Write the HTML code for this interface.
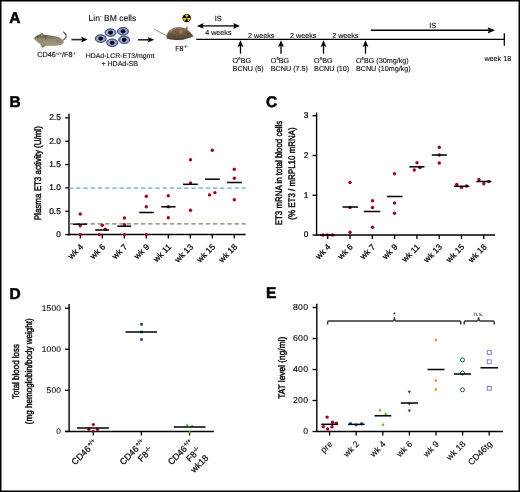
<!DOCTYPE html>
<html><head><meta charset="utf-8"><style>
html,body{margin:0;padding:0;background:#fff;}
svg{display:block;font-family:"Liberation Sans", sans-serif;will-change:transform;text-rendering:geometricPrecision;}
text{stroke:#000;stroke-width:0.22px;}
.yl{stroke-width:0.4px;}
.a{stroke-width:0.12px;fill:#111;}
.ns{stroke-width:0px;fill:#222;}
</style></head><body>
<svg width="520" height="492" viewBox="0 0 520 492" font-family='"Liberation Sans", sans-serif' fill="#000">
<rect width="520" height="492" fill="#fff"/>
<rect x="0.75" y="0.75" width="518.5" height="490.5" fill="none" stroke="#000" stroke-width="1.5"/>
<text x="9.3" y="22.7" font-size="15.5" font-weight="bold" style="stroke-width:0.5px">A</text>
<text x="9.4" y="106.7" font-size="15.5" font-weight="bold" style="stroke-width:0.5px">B</text>
<text x="266.0" y="106.7" font-size="15.5" font-weight="bold" style="stroke-width:0.5px">C</text>
<text x="9.4" y="298.8" font-size="15.5" font-weight="bold" style="stroke-width:0.5px">D</text>
<text x="265.9" y="298.4" font-size="15.5" font-weight="bold" style="stroke-width:0.5px">E</text>
<defs>
<linearGradient id="g1" x1="0" y1="0" x2="0" y2="1"><stop offset="0" stop-color="#5e5747"/><stop offset="0.35" stop-color="#8f8771"/><stop offset="0.7" stop-color="#a0977e"/><stop offset="1" stop-color="#7a7260"/></linearGradient>
<linearGradient id="g2" x1="0" y1="0" x2="0" y2="1"><stop offset="0" stop-color="#86705a"/><stop offset="0.5" stop-color="#705a44"/><stop offset="1" stop-color="#4f3f30"/></linearGradient>
</defs>
<g id="m1">
<path d="M63.3,40 C65.5,38.5 66.6,36.6 66,35 C65.5,33.8 64.6,33 63.6,32" fill="none" stroke="#4f483c" stroke-width="1.1" stroke-linecap="round"/>
<path d="M34,38.2 C35,36.5 37,35.2 39.5,34.6 C41,34.1 42.5,34.2 44,34.8 C48,35.3 52,35.6 56,36.6 C60,37.5 63,39.3 63.8,41.7 C64,43.5 62.5,44.4 60,44.9 C56,45.8 50,46 46,45.7 C44.5,46 43.6,47.3 42.6,47.8 C41.6,48 41.4,46.8 41.5,45.8 C40,44.4 38,42.5 36.5,41.1 C35.2,40.3 34.3,39.3 34,38.2 Z" fill="url(#g1)"/>

<path d="M55,40 C58,40.5 60.5,41.5 62,43 C59,43 56.5,42 55,40 Z" fill="#6f6858" opacity="0.5"/>
<ellipse cx="41.6" cy="34.6" rx="1.7" ry="1.5" fill="#7b7262"/>
<ellipse cx="41.6" cy="34.8" rx="0.9" ry="0.8" fill="#9c8c80"/>
<circle cx="37.4" cy="37.2" r="0.6" fill="#2a2520"/>
<path d="M45.5,36.2 C45.8,37.3 45.9,38.5 45.6,39.6" stroke="#4e473c" stroke-width="0.7" fill="none"/>
<circle cx="34.2" cy="38.4" r="0.6" fill="#b08888"/>
<path d="M41.4,45.8 L41,46.6 M43,47.6 L43.4,48.1 M61.5,44.6 L62.5,45.2" stroke="#c9aca2" stroke-width="0.8"/>
</g>
<line x1="71.4" y1="39.6" x2="82.3" y2="39.6" stroke="#2a2a2a" stroke-width="1.6" />
<path d="M87.6,39.6 L81.1,36.800000000000004 L82.3,39.6 L81.1,42.4 Z" fill="#000"/>
<line x1="138" y1="39.8" x2="148.89999999999998" y2="39.8" stroke="#2a2a2a" stroke-width="1.6" />
<path d="M154.2,39.8 L147.7,37.0 L148.89999999999998,39.8 L147.7,42.599999999999994 Z" fill="#000"/>
<text class="a" x="37.2" y="57.3" font-size="7.3" text-anchor="start">CD46<tspan font-size="4.2" dy="-2.8">+/+</tspan><tspan dy="2.8">/F8</tspan><tspan font-size="4.2" dy="-2.8">-/-</tspan></text>
<text class="a" x="88.6" y="20.7" font-size="8.5" text-anchor="start">Lin<tspan font-size="5.3" dy="-3.2">-</tspan><tspan dy="3.2"> BM cells</tspan></text>
<defs><radialGradient id="cg" cx="0.5" cy="0.5" r="0.5"><stop offset="0.3" stop-color="#d2d6ee"/><stop offset="0.75" stop-color="#8e9acb"/><stop offset="1" stop-color="#56639f"/></radialGradient></defs>
<ellipse cx="110.5" cy="32.6" rx="5.5" ry="3.8" fill="url(#cg)" stroke="#2e3d7c" stroke-width="0.9"/>
<ellipse cx="110.5" cy="32.6" rx="2.5" ry="2.15" fill="#000"/>
<ellipse cx="123" cy="31.3" rx="5.5" ry="3.8" fill="url(#cg)" stroke="#2e3d7c" stroke-width="0.9"/>
<ellipse cx="123" cy="31.3" rx="2.5" ry="2.15" fill="#000"/>
<ellipse cx="100.7" cy="38.6" rx="5.5" ry="3.8" fill="url(#cg)" stroke="#2e3d7c" stroke-width="0.9"/>
<ellipse cx="100.7" cy="38.6" rx="2.5" ry="2.15" fill="#000"/>
<ellipse cx="124.2" cy="39.8" rx="5.5" ry="3.8" fill="url(#cg)" stroke="#2e3d7c" stroke-width="0.9"/>
<ellipse cx="124.2" cy="39.8" rx="2.5" ry="2.15" fill="#000"/>
<ellipse cx="112.2" cy="42.8" rx="5.5" ry="3.8" fill="url(#cg)" stroke="#2e3d7c" stroke-width="0.9"/>
<ellipse cx="112.2" cy="42.8" rx="2.5" ry="2.15" fill="#000"/>
<text class="a" x="85.8" y="57.7" font-size="6.9" text-anchor="start">HDAd-LCR-ET3/mgmt</text>
<text class="a" x="101.4" y="65.8" font-size="7.05" text-anchor="start">+ HDAd-SB</text>
<g transform="translate(186.7,18.1)">
<circle r="4.2" fill="#050505"/>
<path d="M0,0 L1.8,-3.1 A3.6,3.6 0 0 0 -1.8,-3.1 Z" fill="#f2c200"/>
<path d="M0,0 L1.8,-3.1 A3.6,3.6 0 0 0 -1.8,-3.1 Z" fill="#f2c200" transform="rotate(120)"/>
<path d="M0,0 L1.8,-3.1 A3.6,3.6 0 0 0 -1.8,-3.1 Z" fill="#f2c200" transform="rotate(240)"/>
<circle r="0.6" fill="#6a5500"/>
</g>
<g id="m2">
<path d="M154.4,29.2 C158,31.2 162,33.4 167,35.8" fill="none" stroke="#8c7c6c" stroke-width="0.9" stroke-linecap="round"/>
<path d="M166.5,37.5 C166.5,33.5 168.5,30.5 172,28.8 C175,27.4 179,27 182.5,27.6 C185,28 187.5,29.3 189.3,31.3 C191,33 192.5,34.8 193.2,36.3 C192.5,37.2 191,37.6 189.5,37.8 C187.5,38.6 185.5,39.3 183,39.8 C178,40.3 172,40 168,39 C167,38.7 166.5,38.2 166.5,37.5 Z" fill="url(#g2)"/>
<path d="M169,32 C171,29.4 174,28.2 177,27.7 C174.5,29.2 172,30.8 170,33 Z" fill="#a08670" opacity="0.8"/>
<path d="M183,31.5 C185.5,31 188,32 189.8,34.5 C188,35.5 185.5,35.3 183.5,34 Z" fill="#6a5240" opacity="0.7"/>
<ellipse cx="180.6" cy="31.2" rx="2.3" ry="2.5" fill="#8a6c58"/>
<ellipse cx="180.8" cy="31.4" rx="1.4" ry="1.6" fill="#9a7a64"/>
<path d="M171,33 C172.5,35 174,36.5 176.5,37.5 M174.5,30.5 C176,32.5 177,34 178.5,35.5 M183.5,35 C185,36.5 186.5,37.5 188.5,37.8" stroke="#574533" stroke-width="0.6" fill="none" opacity="0.7"/>
<path d="M185.6,29 C185.8,27.6 186.4,26.4 187,26.2 C187.6,26.6 187.8,28 187.6,29.4 Z" fill="#8a6e5a"/>
<circle cx="188.1" cy="33.8" r="0.65" fill="#1a120c"/>
<circle cx="193" cy="36.3" r="0.5" fill="#9a7868"/>
<path d="M168,38.6 L167.6,39.6 M181,39.8 L181.4,40.6 M185.5,39.3 L186.5,39.9" stroke="#d8b8a8" stroke-width="0.8"/>
</g>
<text class="a" x="175.2" y="50.9" font-size="7.2" text-anchor="start">F8<tspan font-size="4.5" dy="-2.8">-/-</tspan></text>
<line x1="202" y1="25.9" x2="234.5" y2="25.9" stroke="#444" stroke-width="1.8" />
<path d="M196.9,25.9 L203.7,23.0 L202.6,25.9 L203.7,28.8 Z" fill="#000"/>
<path d="M240,25.9 L233.2,23.0 L234.3,25.9 L233.2,28.8 Z" fill="#000"/>
<text class="a" x="218.2" y="20.8" font-size="7.4" text-anchor="middle">IS</text>
<text class="a" x="205.2" y="35" font-size="7.2" text-anchor="start">4 weeks</text>
<line x1="196.2" y1="39.3" x2="504.3" y2="39.3" stroke="#000" stroke-width="1.3" />
<line x1="504.3" y1="33.2" x2="504.3" y2="45.8" stroke="#000" stroke-width="1.3" />
<line x1="240.5" y1="53.7" x2="240.5" y2="45" stroke="#000" stroke-width="1.3" />
<path d="M240.5,40.3 L237.6,46.9 L240.5,45.7 L243.4,46.9 Z" fill="#000"/>
<line x1="281" y1="53.7" x2="281" y2="45" stroke="#000" stroke-width="1.3" />
<path d="M281,40.3 L278.1,46.9 L281,45.7 L283.9,46.9 Z" fill="#000"/>
<line x1="323.5" y1="53.7" x2="323.5" y2="45" stroke="#000" stroke-width="1.3" />
<path d="M323.5,40.3 L320.6,46.9 L323.5,45.7 L326.4,46.9 Z" fill="#000"/>
<line x1="365.5" y1="53.7" x2="365.5" y2="45" stroke="#000" stroke-width="1.3" />
<path d="M365.5,40.3 L362.6,46.9 L365.5,45.7 L368.4,46.9 Z" fill="#000"/>
<text class="a" x="248.0" y="37.5" font-size="7.2" text-anchor="start">2 weeks</text>
<text class="a" x="290.0" y="37.5" font-size="7.2" text-anchor="start">2 weeks</text>
<text class="a" x="332.2" y="37.5" font-size="7.2" text-anchor="start">2 weeks</text>
<text class="a" x="232.6" y="62.5" font-size="7.2" text-anchor="start">O<tspan font-size="4.2" dx="0.1" dy="-2.6">6</tspan><tspan dy="2.6">BG</tspan></text>
<text class="a" x="232.6" y="71.1" font-size="7.2" text-anchor="start">BCNU (5)</text>
<text class="a" x="270.8" y="62.5" font-size="7.2" text-anchor="start">O<tspan font-size="4.2" dx="0.1" dy="-2.6">6</tspan><tspan dy="2.6">BG</tspan></text>
<text class="a" x="270.8" y="71.1" font-size="7.2" text-anchor="start">BCNU (7.5)</text>
<text class="a" x="314.1" y="62.5" font-size="7.2" text-anchor="start">O<tspan font-size="4.2" dx="0.1" dy="-2.6">6</tspan><tspan dy="2.6">BG</tspan></text>
<text class="a" x="314.1" y="71.1" font-size="7.2" text-anchor="start">BCNU (10)</text>
<text class="a" x="355.9" y="62.5" font-size="7.2" text-anchor="start">O<tspan font-size="4.2" dx="0.1" dy="-2.6">6</tspan><tspan dy="2.6">BG (30mg/kg)</tspan></text>
<text class="a" x="355.9" y="71.1" font-size="7.2" text-anchor="start">BCNU (10mg/kg)</text>
<line x1="370.9" y1="30.3" x2="489.5" y2="30.3" stroke="#000" stroke-width="1.4" />
<path d="M495.0,30.3 L487.7,27.2 L488.9,30.3 L487.7,33.4 Z" fill="#000"/>
<text class="a" x="432.8" y="28.3" font-size="7.4" text-anchor="middle">IS</text>
<text class="a" x="484.4" y="60.7" font-size="7.2" text-anchor="start">week 18</text>
<line x1="69" y1="113.7" x2="69" y2="235.4" stroke="#000" stroke-width="1.4" />
<line x1="68.3" y1="234.6" x2="245.6" y2="234.6" stroke="#000" stroke-width="1.5" />
<line x1="65.2" y1="234.6" x2="69" y2="234.6" stroke="#000" stroke-width="1.3" />
<text x="60.8" y="237.0" font-size="8.3" text-anchor="end" >0</text>
<line x1="65.2" y1="211.25" x2="69" y2="211.25" stroke="#000" stroke-width="1.3" />
<text x="60.8" y="213.65" font-size="8.3" text-anchor="end" >0.5</text>
<line x1="65.2" y1="187.89999999999998" x2="69" y2="187.89999999999998" stroke="#000" stroke-width="1.3" />
<text x="60.8" y="190.29999999999998" font-size="8.3" text-anchor="end" >1.0</text>
<line x1="65.2" y1="164.54999999999998" x2="69" y2="164.54999999999998" stroke="#000" stroke-width="1.3" />
<text x="60.8" y="166.95" font-size="8.3" text-anchor="end" >1.5</text>
<line x1="65.2" y1="141.2" x2="69" y2="141.2" stroke="#000" stroke-width="1.3" />
<text x="60.8" y="143.6" font-size="8.3" text-anchor="end" >2.0</text>
<line x1="65.2" y1="117.85" x2="69" y2="117.85" stroke="#000" stroke-width="1.3" />
<text x="60.8" y="120.25" font-size="8.3" text-anchor="end" >2.5</text>
<line x1="80.3" y1="234.6" x2="80.3" y2="238.6" stroke="#000" stroke-width="1.3" />
<line x1="102.3" y1="234.6" x2="102.3" y2="238.6" stroke="#000" stroke-width="1.3" />
<line x1="124.3" y1="234.6" x2="124.3" y2="238.6" stroke="#000" stroke-width="1.3" />
<line x1="146.3" y1="234.6" x2="146.3" y2="238.6" stroke="#000" stroke-width="1.3" />
<line x1="168.3" y1="234.6" x2="168.3" y2="238.6" stroke="#000" stroke-width="1.3" />
<line x1="190.3" y1="234.6" x2="190.3" y2="238.6" stroke="#000" stroke-width="1.3" />
<line x1="212.3" y1="234.6" x2="212.3" y2="238.6" stroke="#000" stroke-width="1.3" />
<line x1="234.3" y1="234.6" x2="234.3" y2="238.6" stroke="#000" stroke-width="1.3" />
<line x1="69" y1="188.2" x2="245.6" y2="188.2" stroke="#5aa5e2" stroke-width="1.3" stroke-dasharray="4.3,2.9"/>
<line x1="69" y1="223.9" x2="245.6" y2="223.9" stroke="#8d7556" stroke-width="1.3" stroke-dasharray="4.3,2.9"/>
<circle cx="80.2" cy="214" r="1.7" fill="#a3001e"/>
<circle cx="80.2" cy="225.8" r="1.7" fill="#a3001e"/>
<circle cx="80.2" cy="234.6" r="1.7" fill="#a3001e"/>
<circle cx="102.3" cy="225.2" r="1.7" fill="#a3001e"/>
<circle cx="105.2" cy="229.2" r="1.7" fill="#a3001e"/>
<circle cx="99.4" cy="234.6" r="1.7" fill="#a3001e"/>
<circle cx="124.4" cy="218" r="1.7" fill="#a3001e"/>
<circle cx="124.4" cy="224.8" r="1.7" fill="#a3001e"/>
<circle cx="124.4" cy="234.6" r="1.7" fill="#a3001e"/>
<circle cx="146.3" cy="196.3" r="1.7" fill="#a3001e"/>
<circle cx="146.3" cy="206.8" r="1.7" fill="#a3001e"/>
<circle cx="146.3" cy="234.6" r="1.7" fill="#a3001e"/>
<circle cx="168.3" cy="195.8" r="1.7" fill="#a3001e"/>
<circle cx="168.3" cy="206.8" r="1.7" fill="#a3001e"/>
<circle cx="168.3" cy="217.8" r="1.7" fill="#a3001e"/>
<circle cx="190.5" cy="159.8" r="1.7" fill="#a3001e"/>
<circle cx="190.5" cy="183" r="1.7" fill="#a3001e"/>
<circle cx="190.5" cy="210.3" r="1.7" fill="#a3001e"/>
<circle cx="212.3" cy="150.3" r="1.7" fill="#a3001e"/>
<circle cx="209.5" cy="194.9" r="1.7" fill="#a3001e"/>
<circle cx="214.9" cy="192.6" r="1.7" fill="#a3001e"/>
<circle cx="234.3" cy="169.3" r="1.7" fill="#a3001e"/>
<circle cx="234.3" cy="178.3" r="1.7" fill="#a3001e"/>
<circle cx="234.3" cy="199.7" r="1.7" fill="#a3001e"/>
<line x1="73" y1="224.2" x2="87" y2="224.2" stroke="#000" stroke-width="1.5" />
<line x1="95.2" y1="230" x2="109" y2="230" stroke="#000" stroke-width="1.5" />
<line x1="117.3" y1="226.2" x2="131.2" y2="226.2" stroke="#000" stroke-width="1.5" />
<line x1="139.3" y1="212.5" x2="153.8" y2="212.5" stroke="#000" stroke-width="1.5" />
<line x1="161.3" y1="206.8" x2="175.5" y2="206.8" stroke="#000" stroke-width="1.5" />
<line x1="183" y1="184.3" x2="197.8" y2="184.3" stroke="#000" stroke-width="1.5" />
<line x1="205" y1="179.2" x2="219.8" y2="179.2" stroke="#000" stroke-width="1.5" />
<line x1="227.1" y1="182.5" x2="241.9" y2="182.5" stroke="#000" stroke-width="1.5" />
<text transform="translate(83.7,247.4) rotate(-45)" font-size="8.4" text-anchor="end">wk 4</text>
<text transform="translate(105.7,247.4) rotate(-45)" font-size="8.4" text-anchor="end">wk 6</text>
<text transform="translate(127.7,247.4) rotate(-45)" font-size="8.4" text-anchor="end">wk 7</text>
<text transform="translate(149.70000000000002,247.4) rotate(-45)" font-size="8.4" text-anchor="end">wk 9</text>
<text transform="translate(171.70000000000002,247.4) rotate(-45)" font-size="8.4" text-anchor="end">wk 11</text>
<text transform="translate(193.70000000000002,247.4) rotate(-45)" font-size="8.4" text-anchor="end">wk 13</text>
<text transform="translate(215.70000000000002,247.4) rotate(-45)" font-size="8.4" text-anchor="end">wk 15</text>
<text transform="translate(237.70000000000002,247.4) rotate(-45)" font-size="8.4" text-anchor="end">wk 18</text>
<text transform="translate(41.2,173.2) rotate(-90)" class="yl" font-size="9.5" text-anchor="middle" textLength="94" lengthAdjust="spacingAndGlyphs">Plasma ET3 activity (U/ml)</text>
<line x1="316.6" y1="112.5" x2="316.6" y2="235.8" stroke="#000" stroke-width="1.4" />
<line x1="316" y1="235" x2="495" y2="235" stroke="#000" stroke-width="1.5" />
<line x1="312.5" y1="235.0" x2="316.6" y2="235.0" stroke="#000" stroke-width="1.3" />
<text x="308.3" y="237.4" font-size="8.3" text-anchor="end" >0</text>
<line x1="312.5" y1="195.25" x2="316.6" y2="195.25" stroke="#000" stroke-width="1.3" />
<text x="308.3" y="197.65" font-size="8.3" text-anchor="end" >1</text>
<line x1="312.5" y1="155.5" x2="316.6" y2="155.5" stroke="#000" stroke-width="1.3" />
<text x="308.3" y="157.9" font-size="8.3" text-anchor="end" >2</text>
<line x1="312.5" y1="115.75" x2="316.6" y2="115.75" stroke="#000" stroke-width="1.3" />
<text x="308.3" y="118.15" font-size="8.3" text-anchor="end" >3</text>
<line x1="327.7" y1="235" x2="327.7" y2="239" stroke="#000" stroke-width="1.3" />
<line x1="350.0" y1="235" x2="350.0" y2="239" stroke="#000" stroke-width="1.3" />
<line x1="372.3" y1="235" x2="372.3" y2="239" stroke="#000" stroke-width="1.3" />
<line x1="394.6" y1="235" x2="394.6" y2="239" stroke="#000" stroke-width="1.3" />
<line x1="416.9" y1="235" x2="416.9" y2="239" stroke="#000" stroke-width="1.3" />
<line x1="439.2" y1="235" x2="439.2" y2="239" stroke="#000" stroke-width="1.3" />
<line x1="461.5" y1="235" x2="461.5" y2="239" stroke="#000" stroke-width="1.3" />
<line x1="483.79999999999995" y1="235" x2="483.79999999999995" y2="239" stroke="#000" stroke-width="1.3" />
<circle cx="323" cy="235" r="1.7" fill="#a3001e"/>
<circle cx="327.5" cy="235" r="1.7" fill="#a3001e"/>
<circle cx="332.5" cy="235" r="1.7" fill="#a3001e"/>
<circle cx="350" cy="182.5" r="1.7" fill="#a3001e"/>
<circle cx="350" cy="207.5" r="1.7" fill="#a3001e"/>
<circle cx="350" cy="232.3" r="1.7" fill="#a3001e"/>
<circle cx="372.5" cy="200.8" r="1.7" fill="#a3001e"/>
<circle cx="372.5" cy="207.5" r="1.7" fill="#a3001e"/>
<circle cx="372.5" cy="227.3" r="1.7" fill="#a3001e"/>
<circle cx="394.5" cy="173.8" r="1.7" fill="#a3001e"/>
<circle cx="394.5" cy="203" r="1.7" fill="#a3001e"/>
<circle cx="394.5" cy="213.3" r="1.7" fill="#a3001e"/>
<circle cx="417" cy="162.8" r="1.7" fill="#a3001e"/>
<circle cx="414.3" cy="170" r="1.7" fill="#a3001e"/>
<circle cx="420" cy="167.5" r="1.7" fill="#a3001e"/>
<circle cx="439.3" cy="147.3" r="1.7" fill="#a3001e"/>
<circle cx="439.3" cy="155" r="1.7" fill="#a3001e"/>
<circle cx="439.3" cy="163" r="1.7" fill="#a3001e"/>
<circle cx="456.8" cy="184.5" r="1.7" fill="#a3001e"/>
<circle cx="461.5" cy="187.5" r="1.7" fill="#a3001e"/>
<circle cx="466.5" cy="186" r="1.7" fill="#a3001e"/>
<circle cx="479" cy="179.5" r="1.7" fill="#a3001e"/>
<circle cx="483.8" cy="183.8" r="1.7" fill="#a3001e"/>
<circle cx="488.8" cy="181.5" r="1.7" fill="#a3001e"/>
<line x1="320" y1="235" x2="335" y2="235" stroke="#000" stroke-width="1.5" />
<line x1="342.5" y1="207" x2="358" y2="207" stroke="#000" stroke-width="1.5" />
<line x1="363.8" y1="211.5" x2="380.3" y2="211.5" stroke="#000" stroke-width="1.5" />
<line x1="387" y1="196.5" x2="402.5" y2="196.5" stroke="#000" stroke-width="1.5" />
<line x1="409.3" y1="166.8" x2="424.5" y2="166.8" stroke="#000" stroke-width="1.5" />
<line x1="431.8" y1="155" x2="446.8" y2="155" stroke="#000" stroke-width="1.5" />
<line x1="454" y1="186.3" x2="469.3" y2="186.3" stroke="#000" stroke-width="1.5" />
<line x1="476.3" y1="181.5" x2="491.3" y2="181.5" stroke="#000" stroke-width="1.5" />
<text transform="translate(331.09999999999997,247.5) rotate(-45)" font-size="8.4" text-anchor="end">wk 4</text>
<text transform="translate(353.4,247.5) rotate(-45)" font-size="8.4" text-anchor="end">wk 6</text>
<text transform="translate(375.7,247.5) rotate(-45)" font-size="8.4" text-anchor="end">wk 7</text>
<text transform="translate(398.0,247.5) rotate(-45)" font-size="8.4" text-anchor="end">wk 9</text>
<text transform="translate(420.29999999999995,247.5) rotate(-45)" font-size="8.4" text-anchor="end">wk 11</text>
<text transform="translate(442.59999999999997,247.5) rotate(-45)" font-size="8.4" text-anchor="end">wk 13</text>
<text transform="translate(464.9,247.5) rotate(-45)" font-size="8.4" text-anchor="end">wk 15</text>
<text transform="translate(487.19999999999993,247.5) rotate(-45)" font-size="8.4" text-anchor="end">wk 18</text>
<text transform="translate(281.6,173) rotate(-90)" class="yl" font-size="9.5" text-anchor="middle" textLength="104.5" lengthAdjust="spacingAndGlyphs">ET3 mRNA in total blood cells</text>
<text transform="translate(295,173.5) rotate(-90)" class="yl" font-size="9.5" text-anchor="middle" textLength="92.5" lengthAdjust="spacingAndGlyphs">(% ET3 / mRPL10 mRNA)</text>
<line x1="69.1" y1="304" x2="69.1" y2="431.6" stroke="#000" stroke-width="1.4" />
<line x1="65" y1="431.5" x2="213.8" y2="431.5" stroke="#000" stroke-width="1.5" />
<line x1="65" y1="431.4" x2="69.1" y2="431.4" stroke="#000" stroke-width="1.3" />
<text x="61.2" y="433.79999999999995" font-size="8.3" text-anchor="end" letter-spacing="0.25" style="stroke-width:0.08px">0</text>
<line x1="65" y1="390.29999999999995" x2="69.1" y2="390.29999999999995" stroke="#000" stroke-width="1.3" />
<text x="61.2" y="392.69999999999993" font-size="8.3" text-anchor="end" letter-spacing="0.25" style="stroke-width:0.08px">500</text>
<line x1="65" y1="349.2" x2="69.1" y2="349.2" stroke="#000" stroke-width="1.3" />
<text x="61.2" y="351.59999999999997" font-size="8.3" text-anchor="end" letter-spacing="0.25" style="stroke-width:0.08px">1000</text>
<line x1="65" y1="308.09999999999997" x2="69.1" y2="308.09999999999997" stroke="#000" stroke-width="1.3" />
<text x="61.2" y="310.49999999999994" font-size="8.3" text-anchor="end" letter-spacing="0.25" style="stroke-width:0.08px">1500</text>
<line x1="93.3" y1="431.5" x2="93.3" y2="435.6" stroke="#000" stroke-width="1.3" />
<line x1="141.4" y1="431.5" x2="141.4" y2="435.6" stroke="#000" stroke-width="1.3" />
<line x1="189.6" y1="431.5" x2="189.6" y2="435.6" stroke="#000" stroke-width="1.3" />
<circle cx="93.3" cy="424.5" r="1.6" fill="#a3001e"/>
<circle cx="88.8" cy="429.3" r="1.6" fill="#a3001e"/>
<circle cx="97.5" cy="429.3" r="1.6" fill="#a3001e"/>
<circle cx="93.3" cy="431.3" r="1.6" fill="#a3001e"/>
<rect x="140.2" y="323.0" width="2.6" height="2.6" fill="#1d3f7a"/>
<rect x="140.2" y="330.7" width="2.6" height="2.6" fill="#1d3f7a"/>
<rect x="140.2" y="338.2" width="2.6" height="2.6" fill="#1d3f7a"/>
<path d="M187,423.2 L188.7,426.2 L185.3,426.2 Z" fill="#5cb82e"/>
<path d="M192,424.0 L193.7,427.0 L190.3,427.0 Z" fill="#5cb82e"/>
<path d="M189.6,430.2 L191.29999999999998,433.2 L187.9,433.2 Z" fill="#5cb82e"/>
<line x1="77" y1="428" x2="109" y2="428" stroke="#000" stroke-width="1.5" />
<line x1="125.5" y1="332" x2="157" y2="332" stroke="#000" stroke-width="1.5" />
<line x1="173.8" y1="427" x2="205.5" y2="427" stroke="#000" stroke-width="1.5" />
<g transform="translate(97.35,443.25) rotate(-45)" font-size="8.9" text-anchor="end"><text x="0" y="0.00">CD46<tspan font-size="5.7" dx="0.5" dy="-3.2">+/+</tspan></text></g>
<g transform="translate(145.45000000000002,443.25) rotate(-45)" font-size="8.9" text-anchor="end"><text x="0" y="0.00">CD46<tspan font-size="5.7" dx="0.5" dy="-3.2">+/+</tspan></text><text x="0" y="10.80">F8<tspan font-size="5.7" dx="0.5" dy="-3.2">-/-</tspan></text></g>
<g transform="translate(193.65,443.25) rotate(-45)" font-size="8.9" text-anchor="end"><text x="0" y="0.00">CD46<tspan font-size="5.7" dx="0.5" dy="-3.2">+/+</tspan></text><text x="0" y="10.80">F8<tspan font-size="5.7" dx="0.5" dy="-3.2">-/-</tspan></text><text x="0" y="21.60">wk18</text></g>
<text transform="translate(19.1,371.5) rotate(-90)" class="yl" font-size="9.5" text-anchor="middle" textLength="55" lengthAdjust="spacingAndGlyphs">Total blood loss</text>
<text transform="translate(32,371.2) rotate(-90)" class="yl" font-size="9.5" text-anchor="middle" textLength="106" lengthAdjust="spacingAndGlyphs">(mg hemoglobin/body weight)</text>
<line x1="316.8" y1="303.7" x2="316.8" y2="431.5" stroke="#000" stroke-width="1.4" />
<line x1="316" y1="431.5" x2="503" y2="431.5" stroke="#000" stroke-width="1.5" />
<line x1="312.5" y1="431.5" x2="316.8" y2="431.5" stroke="#000" stroke-width="1.3" />
<text x="308.4" y="434.4" font-size="8.7" text-anchor="end" letter-spacing="0.3" style="stroke-width:0.08px">0</text>
<line x1="312.5" y1="400.5" x2="316.8" y2="400.5" stroke="#000" stroke-width="1.3" />
<text x="308.4" y="403.4" font-size="8.7" text-anchor="end" letter-spacing="0.3" style="stroke-width:0.08px">200</text>
<line x1="312.5" y1="369.5" x2="316.8" y2="369.5" stroke="#000" stroke-width="1.3" />
<text x="308.4" y="372.4" font-size="8.7" text-anchor="end" letter-spacing="0.3" style="stroke-width:0.08px">400</text>
<line x1="312.5" y1="338.5" x2="316.8" y2="338.5" stroke="#000" stroke-width="1.3" />
<text x="308.4" y="341.4" font-size="8.7" text-anchor="end" letter-spacing="0.3" style="stroke-width:0.08px">600</text>
<line x1="312.5" y1="307.5" x2="316.8" y2="307.5" stroke="#000" stroke-width="1.3" />
<text x="308.4" y="310.4" font-size="8.7" text-anchor="end" letter-spacing="0.3" style="stroke-width:0.08px">800</text>
<line x1="329.6" y1="431.5" x2="329.6" y2="435.6" stroke="#000" stroke-width="1.3" />
<line x1="356.20000000000005" y1="431.5" x2="356.20000000000005" y2="435.6" stroke="#000" stroke-width="1.3" />
<line x1="382.8" y1="431.5" x2="382.8" y2="435.6" stroke="#000" stroke-width="1.3" />
<line x1="409.40000000000003" y1="431.5" x2="409.40000000000003" y2="435.6" stroke="#000" stroke-width="1.3" />
<line x1="436.0" y1="431.5" x2="436.0" y2="435.6" stroke="#000" stroke-width="1.3" />
<line x1="462.6" y1="431.5" x2="462.6" y2="435.6" stroke="#000" stroke-width="1.3" />
<line x1="489.20000000000005" y1="431.5" x2="489.20000000000005" y2="435.6" stroke="#000" stroke-width="1.3" />
<circle cx="327.1" cy="417.1" r="1.7" fill="#a3001e"/>
<circle cx="332.5" cy="422.3" r="1.7" fill="#a3001e"/>
<circle cx="336.3" cy="423.1" r="1.7" fill="#a3001e"/>
<circle cx="323.3" cy="426.6" r="1.7" fill="#a3001e"/>
<circle cx="332" cy="426.7" r="1.7" fill="#a3001e"/>
<circle cx="327.7" cy="429" r="1.7" fill="#a3001e"/>
<circle cx="350.5" cy="423.5" r="1.6" fill="#1f4f96"/>
<circle cx="356.2" cy="424.8" r="1.6" fill="#1f4f96"/>
<circle cx="361.7" cy="423.7" r="1.6" fill="#1f4f96"/>
<path d="M380,408.2 L381.7,411.2 L378.3,411.2 Z" fill="#5cb82e"/>
<path d="M385.8,412.0 L387.5,415.0 L384.1,415.0 Z" fill="#5cb82e"/>
<path d="M383,422.7 L384.7,425.7 L381.3,425.7 Z" fill="#5cb82e"/>
<path d="M409.3,393.8 L411.0,390.8 L407.6,390.8 Z" fill="#5a2a82"/>
<path d="M409.3,405.8 L411.0,402.8 L407.6,402.8 Z" fill="#5a2a82"/>
<path d="M409.3,412.6 L411.0,409.6 L407.6,409.6 Z" fill="#5a2a82"/>
<path d="M435.8,338.2 L437.3,340 L435.8,341.8 L434.3,340 Z" fill="#e8900a"/>
<path d="M435.8,378.7 L437.3,380.5 L435.8,382.3 L434.3,380.5 Z" fill="#e8900a"/>
<path d="M435.8,387.7 L437.3,389.5 L435.8,391.3 L434.3,389.5 Z" fill="#e8900a"/>
<circle cx="462.5" cy="359.8" r="2.0" fill="none" stroke="#1d5e42" stroke-width="1.0"/>
<circle cx="462.5" cy="373" r="2.0" fill="none" stroke="#1d5e42" stroke-width="1.0"/>
<circle cx="462.5" cy="389.8" r="2.0" fill="none" stroke="#1d5e42" stroke-width="1.0"/>
<rect x="487.35" y="350.55" width="3.9" height="3.9" fill="none" stroke="#8680cc" stroke-width="1.0"/>
<rect x="487.35" y="359.85" width="3.9" height="3.9" fill="none" stroke="#8680cc" stroke-width="1.0"/>
<rect x="487.35" y="386.35" width="3.9" height="3.9" fill="none" stroke="#8680cc" stroke-width="1.0"/>
<line x1="321.3" y1="424.3" x2="338" y2="424.3" stroke="#000" stroke-width="1.5" />
<line x1="348.2" y1="424.4" x2="364.6" y2="424.4" stroke="#000" stroke-width="1.5" />
<line x1="374.5" y1="415.8" x2="391.3" y2="415.8" stroke="#000" stroke-width="1.5" />
<line x1="400.8" y1="403" x2="418" y2="403" stroke="#000" stroke-width="1.5" />
<line x1="427.5" y1="369.5" x2="444.5" y2="369.5" stroke="#000" stroke-width="1.5" />
<line x1="454" y1="374" x2="471" y2="374" stroke="#000" stroke-width="1.5" />
<line x1="480.5" y1="367.8" x2="498" y2="367.8" stroke="#000" stroke-width="1.5" />
<text transform="translate(333.1,444.6) rotate(-45)" font-size="8.8" text-anchor="end" style="stroke-width:0.1px">pre</text>
<text transform="translate(359.70000000000005,444.6) rotate(-45)" font-size="8.8" text-anchor="end" style="stroke-width:0.1px">wk 2</text>
<text transform="translate(386.3,444.6) rotate(-45)" font-size="8.8" text-anchor="end" style="stroke-width:0.1px">wk 4</text>
<text transform="translate(412.90000000000003,444.6) rotate(-45)" font-size="8.8" text-anchor="end" style="stroke-width:0.1px">wk 6</text>
<text transform="translate(439.5,444.6) rotate(-45)" font-size="8.8" text-anchor="end" style="stroke-width:0.1px">wk 9</text>
<text transform="translate(466.1,444.6) rotate(-45)" font-size="8.8" text-anchor="end" style="stroke-width:0.1px">wk 18</text>
<text transform="translate(492.70000000000005,444.6) rotate(-45)" font-size="8.8" text-anchor="end" style="stroke-width:0.1px">CD46tg</text>
<path d="M327.6,324.6 L327.6,322.2 Q327.6,320.9 329,320.9 L393,320.9 Q394.4,320.9 394.4,317.3 Q394.4,320.9 395.8,320.9 L459.4,320.9 Q460.8,320.9 460.8,322.2 L460.8,324.6" fill="none" stroke="#333" stroke-width="1.45"/>
<path d="M464.2,324.6 L464.2,322.2 Q464.2,320.9 465.6,320.9 L477.2,320.9 Q478.6,320.9 478.6,317.3 Q478.6,320.9 480,320.9 L492.8,320.9 Q494.2,320.9 494.2,322.2 L494.2,324.6" fill="none" stroke="#333" stroke-width="1.45"/>
<circle cx="394.4" cy="313.4" r="0.9" fill="#000"/>
<text x="478.5" y="315.8" font-size="6.2" text-anchor="middle" class="ns">n.s.</text>
<text transform="translate(285.4,367.8) rotate(-90)" class="yl" font-size="9.5" text-anchor="middle" textLength="62" lengthAdjust="spacingAndGlyphs">TAT level (ng/ml)</text>
</svg></body></html>
